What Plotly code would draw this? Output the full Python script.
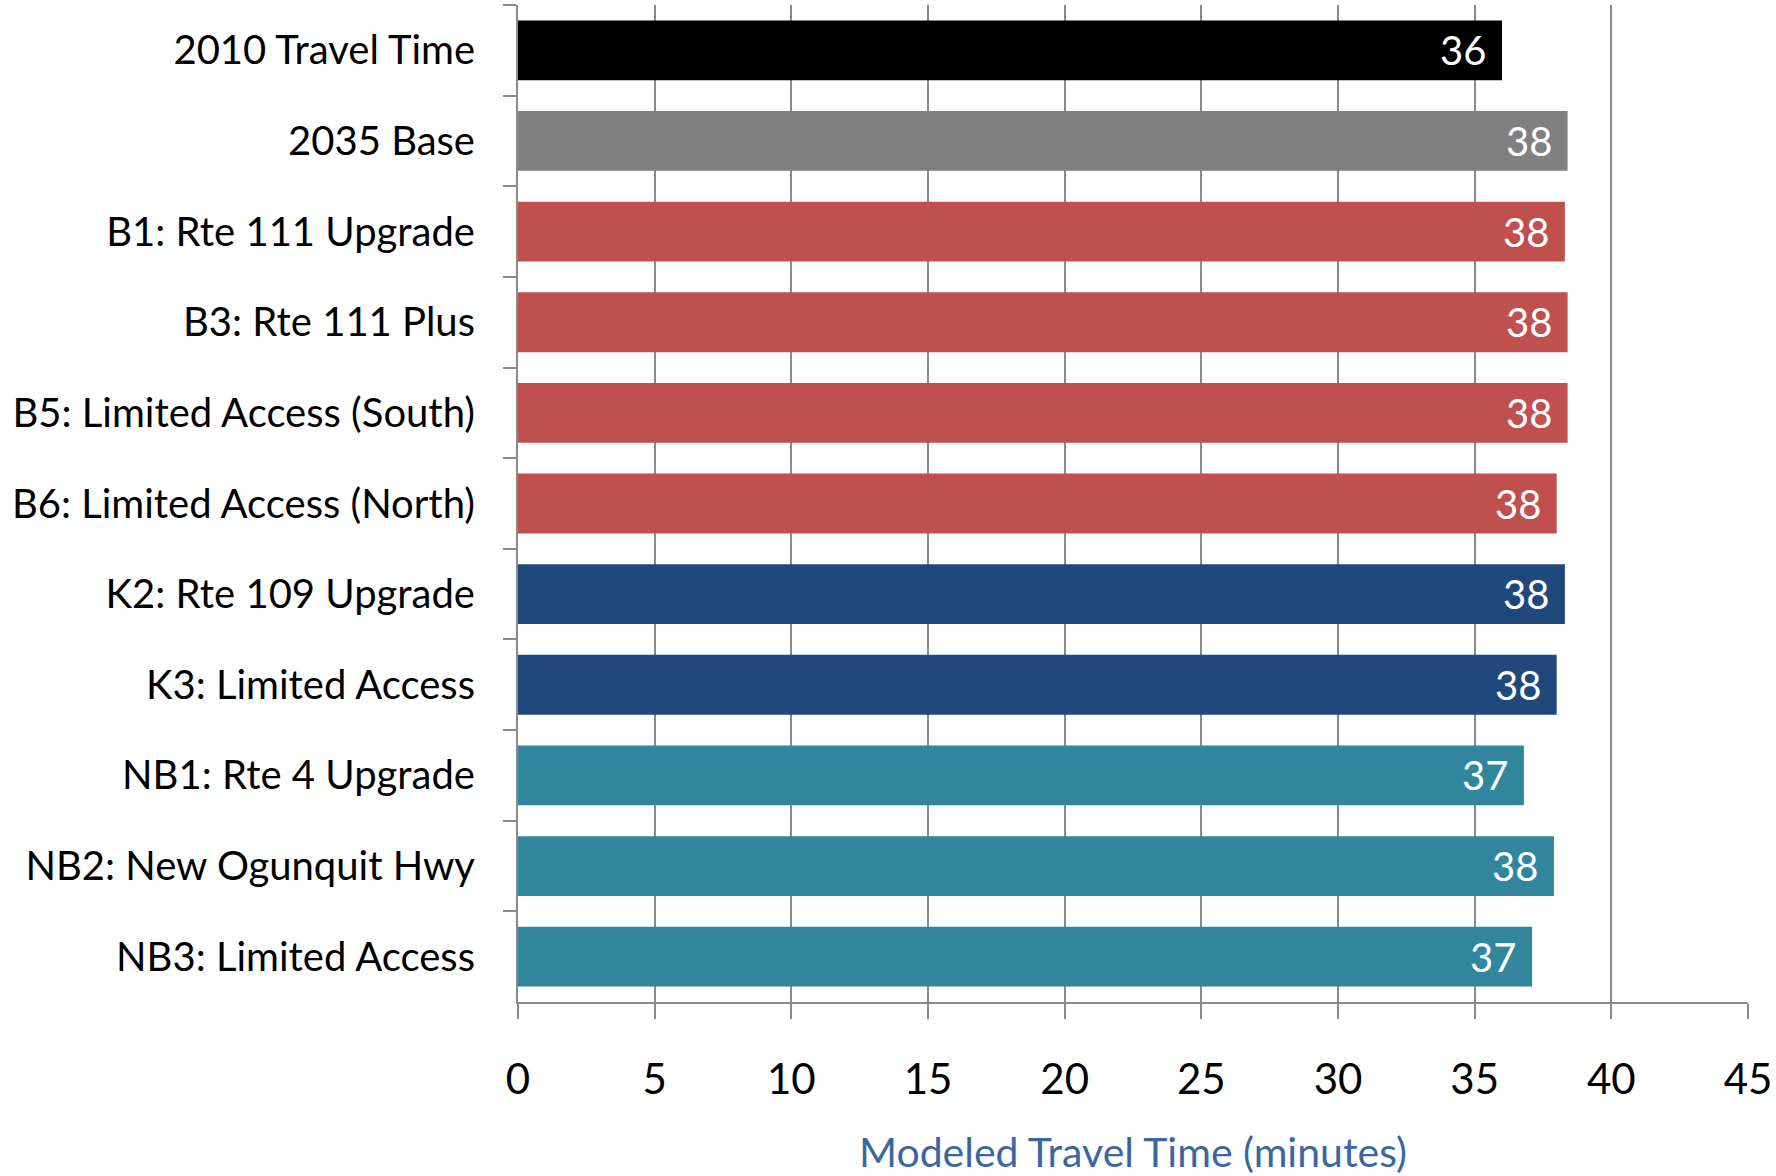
import plotly.graph_objects as go

# Scenario names, top to bottom
scenarios = [
    "2010 Travel Time",
    "2035 Base",
    "B1: Rte 111 Upgrade",
    "B3: Rte 111 Plus",
    "B5: Limited Access (South)",
    "B6: Limited Access (North)",
    "K2: Rte 109 Upgrade",
    "K3: Limited Access",
    "NB1: Rte 4 Upgrade",
    "NB2: New Ogunquit Hwy",
    "NB3: Limited Access",
]

# Modeled travel time in minutes
travel_minutes = [36.0, 38.4, 38.3, 38.4, 38.4, 38.0, 38.3, 38.0, 36.8, 37.9, 37.1]

# Bar colour by scenario group
bar_colors = [
    "#000000",
    "#808080",
    "#C0504D", "#C0504D", "#C0504D", "#C0504D",
    "#1F497D", "#1F497D",
    "#31859C", "#31859C", "#31859C",
]

x_ticks = [0, 5, 10, 15, 20, 25, 30, 35, 40, 45]

FONT = "Lato"
AXIS_GREY = "#8A8A8A"

fig = go.Figure()
fig.add_trace(go.Bar(
    y=scenarios,
    x=travel_minutes,
    orientation="h",
    marker=dict(color=bar_colors, line=dict(width=0)),
    hoverinfo="skip",
))

# Rounded value labels just inside the end of each bar
for name, val in zip(scenarios, travel_minutes):
    fig.add_annotation(
        x=val, y=name, xref="x", yref="y",
        text=f"{val:.0f}",
        showarrow=False,
        xanchor="right", yanchor="middle",
        xshift=-14, yshift=0,
        font=dict(family=FONT, size=40, color="#FFFFFF"),
    )

fig.update_layout(
    width=1776, height=1176,
    margin=dict(l=518, r=28, t=5, b=174, pad=0),
    paper_bgcolor="#FFFFFF", plot_bgcolor="#FFFFFF",
    bargap=0.34,
    showlegend=False,
    font=dict(family=FONT, color="#000000"),
)

fig.update_xaxes(
    range=[0, 45],
    tickvals=x_ticks,
    ticktext=[str(t) for t in x_ticks],
    showgrid=True, gridcolor=AXIS_GREY, gridwidth=1.5,
    showline=True, linecolor=AXIS_GREY, linewidth=2,
    ticks="outside", ticklen=15, tickwidth=1.5, tickcolor=AXIS_GREY,
    tickfont=dict(family=FONT, size=42, color="#000000"),
    ticklabelstandoff=25,
    zeroline=False,
    title=dict(
        text="Modeled Travel Time (minutes)",
        font=dict(family=FONT, size=41, color="#3B67A0"),
        standoff=40,
    ),
)

fig.update_yaxes(
    categoryorder="array", categoryarray=scenarios,
    autorange="reversed",
    showgrid=False,
    showline=True, linecolor=AXIS_GREY, linewidth=2,
    ticks="outside", tickson="boundaries", ticklen=13, tickwidth=1.5, tickcolor=AXIS_GREY,
    tickfont=dict(family=FONT, size=40, color="#000000"),
    ticklabelstandoff=33,
    zeroline=False,
)

fig.write_html("out.html")
